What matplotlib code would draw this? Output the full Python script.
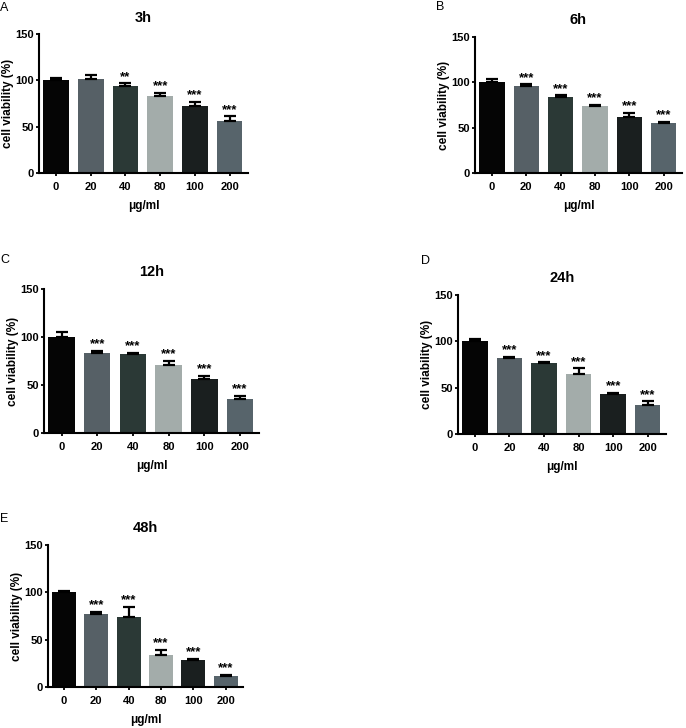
import matplotlib
matplotlib.use('Agg')
import matplotlib.pyplot as plt

plt.rcParams['font.family'] = ['Liberation Sans', 'DejaVu Sans']
plt.rcParams['font.weight'] = 'bold'

# data
doses = ['0', '20', '40', '80', '100', '200']
bar_colors = ['#050505', '#566066', '#2b3936', '#a3acaa', '#1a1f1f', '#57646b']

v_3h = [100.3, 101.3, 93.4, 83.0, 72.0, 56.3]
e_3h = [2.7, 4.0, 3.2, 3.2, 4.8, 5.0]
s_3h = ['', '', '**', '***', '***', '***']

v_6h = [100.3, 95.5, 83.8, 73.5, 62.2, 55.6]
e_6h = [3.6, 2.5, 1.8, 1.9, 4.0, 1.1]
s_6h = ['', '***', '***', '***', '***', '***']

v_12h = [100.3, 83.7, 81.9, 70.8, 56.3, 35.8]
e_12h = [5.2, 2.1, 1.8, 4.5, 3.1, 2.7]
s_12h = ['', '***', '***', '***', '***', '***']

v_24h = [100.8, 81.8, 76.1, 64.6, 42.7, 31.2]
e_24h = [1.8, 1.8, 1.4, 6.4, 1.8, 4.0]
s_24h = ['', '***', '***', '***', '***', '***']

v_48h = [100.8, 77.6, 74.1, 34.1, 28.1, 11.2]
e_48h = [1.1, 2.1, 10.9, 5.2, 1.8, 1.4]
s_48h = ['', '***', '***', '***', '***', '***']

W, H = 686, 728


def make_panel(fig, box, title, vals, errs, stars):
    left, right, top, bottom = box
    ax = fig.add_axes([left / W, 1 - bottom / H, (right - left) / W, (bottom - top) / H])
    x = range(len(doses))
    ax.bar(x, vals, width=0.74, color=bar_colors, zorder=2)
    ax.errorbar(x, vals, yerr=[[0] * len(errs), errs], fmt='none', ecolor='black',
                elinewidth=1.6, capsize=4.5, capthick=1.6, zorder=3)
    for i in x:
        if stars[i]:
            ax.text(i, vals[i] + errs[i] + 0.5, stars[i], ha='center', va='bottom',
                    fontsize=9.5, fontweight='bold')
    ax.set_xlim(-0.49, 5.53)
    ax.set_ylim(0, 150)
    ax.set_yticks([0, 50, 100, 150])
    ax.set_xticks(list(x))
    ax.set_xticklabels(doses)
    for sp in ['top', 'right']:
        ax.spines[sp].set_visible(False)
    for sp in ['left', 'bottom']:
        ax.spines[sp].set_linewidth(1.5)
    ax.tick_params(direction='out', length=2.5, width=1.3, labelsize=8)
    ax.tick_params(axis='y', pad=1)
    ax.tick_params(axis='x', pad=4)
    for lab in ax.get_xticklabels() + ax.get_yticklabels():
        lab.set_fontweight('bold')
    ax.set_xlabel('μg/ml', fontsize=8.5, fontweight='bold', labelpad=6)
    ax.set_ylabel('cell viability (%)', fontsize=8.5, fontweight='bold', labelpad=1)
    ax.set_title(title, fontsize=10.5, fontweight='bold', pad=9)
    return ax


fig = plt.figure(figsize=(W / 100, H / 100), dpi=100)

make_panel(fig, (39, 248, 34, 173), '3h', v_3h, e_3h, s_3h)
make_panel(fig, (475, 682, 37, 173), '6h', v_6h, e_6h, s_6h)
make_panel(fig, (44, 259, 289, 433), '12h', v_12h, e_12h, s_12h)
make_panel(fig, (458, 666, 295, 434), '24h', v_24h, e_24h, s_24h)
make_panel(fig, (48, 243, 545, 687), '48h', v_48h, e_48h, s_48h)

# panel letters
for letter, px, py in [('A', 0, 8), ('B', 436, 7), ('C', 0, 260), ('D', 421, 261), ('E', 0, 519)]:
    fig.text(px / W, 1 - py / H, letter, fontsize=9, fontweight='normal', va='center', ha='left')

fig.savefig('out.png', dpi=100)
